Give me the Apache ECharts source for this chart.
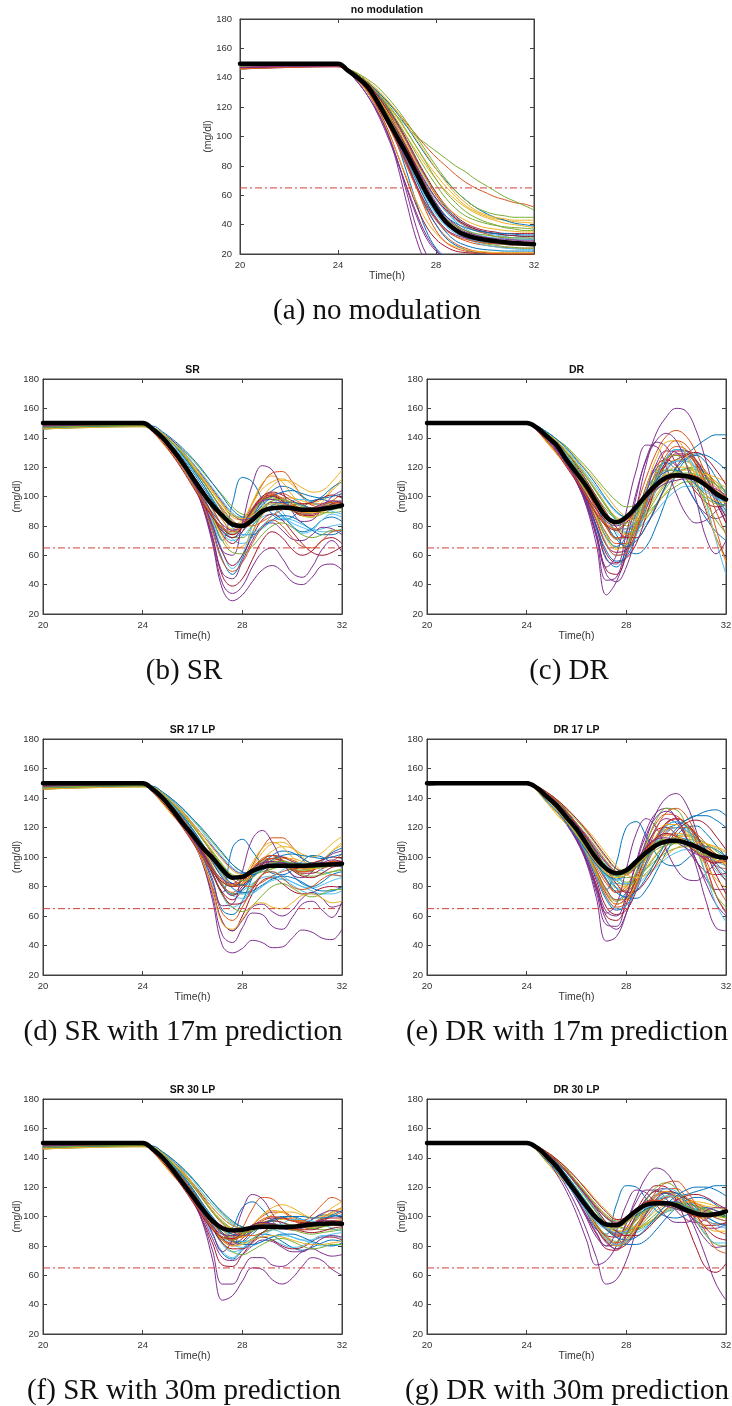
<!DOCTYPE html>
<html>
<head>
<meta charset="utf-8">
<script src="https://cdn.jsdelivr.net/npm/echarts@6/dist/echarts.min.js"></script>
<style>
  html, body { margin: 0; padding: 0; background: #fff; }
  #chart { width: 732px; height: 1406px; }
</style>
</head>
<body>
<div id="chart"></div>
<script>
// Sample times (h) shared by every glucose trace
const hours = [20, 24, 24.4, 24.8, 25.2, 25.6, 26, 26.4, 26.8, 27.2, 27.6, 28, 28.4, 28.8, 29.2, 29.6, 30, 30.4, 30.8, 31.2, 31.6, 32];
const timeTicks = [20, 24, 28, 32];
const glucoseTicks = [20, 40, 60, 80, 100, 120, 140, 160, 180];
const hypoThreshold = 65;

// (a) no modulation
const noModMean = [149.5,149.5,145,140,134,124,112,100,88,75,62,51,42,36.5,33,31,29.7,28.8,28,27.5,27,26.7];
const noModRuns = [
  [146,148,146,142,135,125,112,96,76,55,36,24,18,15,14,13,13,13,13,13,13,13],
  [148,149,146,142,137,131,124,117,109,101,93,86,80,74,69,65,62,59,57,55,54,52],
  [147,148.5,145,140,134,127,119,110,100,90,80,71,63,57,52,48,45,43,41,40,39,38],
  [147,148,145,140,132,120,104,82,55,30,14,8,6,5,5,5,5,5,5,5,5,5],
  [149,149,146,141,135,128,121,114,107,100,95,90,85,80,76,71,67,63,59,56,53,50],
  [148,149,146,141,135,127,117,105,92,79,67,57,49,43,39,36,34,33,32,31,31,30],
  [147,148,145,139,131,120,106,89,71,53,39,30,25,22,21,20.5,20,19.5,19,19,19,19],
  [149,149.5,146,142,136,129,120,109,97,84,72,61,52,45,40,37,35,34,33,32.5,32,32],
  [146,148,144,139,132,123,112,99,85,70,56,45,37,32,29,27,26,25,24.5,24,24,24],
  [148,149,145,141,136,130,122,113,103,93,83,74,66,59,53,49,46,44,43,42,41.5,41],
  [148,149,144,137,128,116,101,84,66,48,33,23,17,14,13,13,13,13,13,13,13,13],
  [149,149,146,142,137,131,123,114,104,93,82,71,62,55,49,45,42,40,38,37,36,36],
  [148,148.5,145,140,133,124,113,100,86,72,59,48,40,35,31,29,28,27,26.5,26,26,26],
  [147,148,146,142,136,128,118,106,93,79,66,55,46,40,36,33,31,30,29,28.5,28,28],
  [148,149,146,142,137,131,124,116,107,97,87,78,70,63,57,52,48,45,43,41,40,39],
  [149,149,145,139,131,121,109,95,80,65,51,40,32,27,24,22,21,20.5,20,20,20,20],
  [148,149,146,143,138,132,125,117,108,98,88,78,69,61,55,50,47,45,44,43,43,43],
  [146,147.5,144,138,130,118,103,85,65,46,31,22,17,15,14,14,14,14,14,14,14,14],
  [147,148,145,141,135,127,117,105,91,77,63,51,42,36,32,29,27,26,25,24.5,24,24],
  [148,148.5,146,141,134,125,114,101,87,73,60,49,41,35,31,28,26,25,24,23.5,23,23],
  [149,149.5,146,142,137,130,121,110,98,85,73,62,53,46,41,38,36,35,34,34,34,34],
  [147,148,145,140,133,124,112,98,83,67,52,40,31,26,23,21,20,19,19,19,19,19],
  [148,149,145,141,135,128,119,108,96,83,71,60,51,44,39,36,34,32,31,30,30,30],
  [146,148,144,138,130,119,105,89,72,56,43,34,28,25,23,22,21.5,21,21,21,21,21],
  [148,148.5,144,137,128,117,103,85,62,38,20,12,9,8,8,8,8,8,8,8,8,8],
  [148,149,146,143,139,134,127,119,110,100,90,80,71,63,57,52,49,47,46,45,45,45],
  [149,149,146,141,135,127,117,106,94,81,69,58,49,42,37,34,32,31,30.5,30,30,30],
  [147,148,145,140,134,126,116,104,90,76,62,50,41,35,31,29,28,27.5,27,27,27,27],
  [148,149,145,140,133,124,113,100,85,70,56,44,35,29,26,24,23,22.5,22,22,22,22],
  [148,149,145,140,134,126,115,101,84,66,49,36,28,24,22,21,20.5,20,20,20,20,20],
  [148,149,145,140,134,125,114,101,88,74,61,50,42,37,33,31,29.5,28.5,28,27.5,27,27],
  [147,148,145,141,135,127,117,105,92,78,65,54,45,39,35,33,31.5,30.5,30,29.5,29,29],
  [149,149.5,146,141,135,126,116,103,90,76,63,52,44,39,36,34,33,32,31.5,31,31,31],
  [148,148.5,145,140,133,124,112,99,85,71,58,47,39,34,31,29,28,27,26.5,26,26,26],
  [147,148,146,142,136,128,118,106,93,80,68,58,50,44,40,37,35,34,33,32.5,32,32],
  [148,149,145,140,134,125,114,102,89,76,64,54,46,41,38,36,35,34,34,33.5,33,33],
  [146,147.5,144,139,132,122,110,96,81,66,53,43,36,32,30,28.5,27.5,27,26.5,26,26,26],
  [148,149,146,141,135,127,117,106,94,82,71,61,53,47,43,40,38,37,36,35.5,35,35],
  [147,148,145,140,133,123,111,97,82,67,54,44,37,33,31,30,29,28.5,28,28,28,28],
  [149,149,146,142,137,130,121,111,100,88,77,67,58,51,46,43,41,39.5,38.5,38,37.5,37]
];

// (b) SR
const srMean = [150,150,146,140,132,123,113,103,94,87,81,80,84,90,92,92.5,92,91,91,91.5,92.5,94];
const srRuns = [
  [148,149,146,140,132,122,110,96,78,57,47,58,75,88,92,87,80,76,78,84,86,83],
  [147,148.5,147,142,136,129,120,111,101,90,80,82,95,108,116,117,110,100,94,93,97,102],
  [149,149,144,136,128,120,112,104,96,88,81,84,95,105,110,112,108,101,96,98,105,112],
  [147,148,146,140,132,122,110,93,68,37,29,33,42,50,53,49,42,40,45,53,54,50],
  [148,149,147,143,137,130,122,113,104,95,87,86,92,98,100,98,94,91,90,92,95,96],
  [147,148,146,141,133,124,112,99,83,63,51,60,80,95,98,90,80,75,77,84,88,86],
  [147,148,146,140,132,122,110,94,72,46,39,44,57,70,76,72,64,60,63,70,72,68],
  [148,149,146,141,133,124,113,100,85,70,95,113,110,98,88,84,86,92,97,98,95,92],
  [147,148,146,141,134,125,115,105,94,84,77,79,87,96,101,102,99,95,92,92,94,95],
  [149,149.5,147,142,136,129,121,112,103,94,86,84,87,93,97,99,99,97,95,94,95,97],
  [148,149,146,140,132,122,110,94,70,41,34,39,52,62,65,58,48,45,52,64,70,62],
  [148,149,147,143,138,132,125,117,109,101,93,88,87,89,92,94,94,92,90,89,89,90],
  [146,148,145,139,131,122,111,99,86,75,70,73,80,86,88,86,82,79,77,78,80,81],
  [149,149.5,146,140,132,122,111,97,80,62,53,60,73,84,88,84,76,68,62,60,62,66],
  [147,148,146,141,133,124,113,101,88,77,72,76,86,97,104,107,105,100,97,100,106,110],
  [147,148,147,142,136,129,120,111,101,92,84,80,80,83,87,91,94,95,95,95,96,97],
  [148,149,145,138,130,122,113,104,94,84,78,83,96,109,114,110,101,94,92,96,104,110],
  [146,148,145,139,131,121,109,94,73,48,44,56,70,80,82,77,71,70,74,79,78,74],
  [146,147.5,145,140,133,124,114,103,91,80,72,72,80,88,93,93,90,87,86,88,91,92],
  [147,148,146,141,134,125,115,104,92,80,71,68,72,78,83,85,84,81,78,76,76,78],
  [148,148.5,146,140,132,123,112,100,87,74,68,76,88,97,100,97,91,87,87,91,95,96],
  [147,148.5,146,141,134,126,117,107,97,87,79,74,74,79,84,87,86,82,77,74,74,77],
  [148,149,146,141,134,125,115,104,92,80,74,80,92,100,102,98,92,89,90,94,97,97],
  [149,149,147,142,136,128,119,109,98,88,80,79,88,99,107,111,110,106,103,104,110,118],
  [148,149,146,141,133,123,112,98,81,63,60,82,108,121,118,104,90,83,84,92,100,104],
  [148,149,146,141,133,124,113,100,85,70,62,61,66,74,80,82,79,74,72,74,77,77],
  [147,148,146,141,135,127,118,109,99,88,79,74,75,80,87,93,97,98,96,93,90,88],
  [148,149,146,140,132,123,112,100,87,76,72,79,91,100,103,101,97,95,96,99,101,99],
  [148,149,147,142,136,128,119,109,98,88,80,79,86,94,100,103,104,102,100,99,100,102],
  [148,148.5,146,140,132,122,111,96,76,56,49,55,68,79,84,80,72,66,65,70,76,77],
  [149,149.5,146,141,133,124,113,100,86,73,65,66,76,87,94,95,91,87,86,89,93,94],
  [148,149,147,143,138,131,123,114,105,96,88,84,86,92,96,95,92,90,91,93,94,93],
  [147,148,145,138,130,120,109,97,86,78,75,79,89,97,99,96,91,88,89,92,94,94],
  [148,149,147,143,137,131,123,115,106,97,89,85,87,92,95,94,92,91,92,94,96,97],
  [149,149.5,144,137,128,118,107,96,86,78,74,79,90,99,101,97,91,88,88,91,93,93],
  [147,148,148,144,139,133,126,118,109,100,91,86,85,89,94,96,96,94,92,91,92,93],
  [148,148.5,145,138,129,119,108,97,87,79,76,80,90,98,101,99,95,92,92,94,96,95],
  [146,147.5,147,143,137,130,122,113,104,95,88,85,87,92,95,95,93,90,89,90,92,93],
  [148,149,145,139,131,121,110,99,89,81,77,81,91,97,98,96,93,91,92,95,97,96],
  [147,148.5,147,142,136,129,120,111,101,91,83,80,83,92,97,98,96,93,91,91,93,94]
];

// (c) DR
const drMean = [150,150,147,141,135,125,116,107,96,86,82.5,86,93,101,108,113,114.5,114,112,107.5,102,98];
const drRuns = [
  [149,150,147,141,134,125,114,101,87,72,66,73,88,104,115,121,125,129,134,139,142,142],
  [150,150,147,142,135,126,116,105,92,79,71,76,93,113,130,141,145,141,130,115,102,95],
  [150,150,145,137,129,121,113,104,94,82,71,72,84,99,112,121,125,124,119,112,104,97],
  [149,150,146,140,132,122,110,93,67,33,42,62,92,122,143,154,160,158,145,124,100,82],
  [149,150,147,143,137,130,122,113,104,94,84,78,78,85,95,106,114,119,120,116,110,103],
  [150,150,147,142,136,128,119,109,98,86,76,71,76,89,104,117,124,125,120,110,98,86],
  [149,150,146,140,132,122,110,95,74,50,47,60,84,107,121,125,121,112,103,96,93,94],
  [150,150.5,147,142,136,128,119,109,98,86,74,64,61,66,80,98,115,125,128,123,113,102],
  [149,150,147,141,134,125,115,104,92,80,72,72,82,97,112,123,128,128,122,114,106,100],
  [150,150.5,145,137,129,121,113,105,96,86,77,74,80,90,101,110,116,118,117,114,110,106],
  [150,150.5,146,140,132,122,110,94,72,43,45,68,100,126,137,134,122,108,96,88,85,88],
  [149,150,147,142,136,128,119,110,100,91,84,80,82,88,95,102,107,110,110,108,104,100],
  [150,150,147,143,137,130,122,113,103,93,83,76,76,82,90,98,104,107,107,104,100,96],
  [150,150,146,141,133,123,112,98,80,61,55,58,68,87,107,122,129,129,122,110,96,82],
  [150,151,146,140,132,122,111,97,78,58,52,64,85,106,119,123,118,108,96,85,76,70],
  [150,150,147,141,134,125,115,104,91,79,72,73,80,92,106,118,125,127,124,117,108,99],
  [150,150,147,142,135,126,116,106,94,83,77,78,86,97,108,116,120,120,116,110,103,96],
  [150,150,146,140,132,122,110,95,73,47,42,52,75,102,122,131,130,122,108,90,72,58],
  [150,150.5,147,143,137,129,120,110,99,88,79,75,79,88,99,109,116,119,118,114,108,102],
  [149,150,147,142,136,128,118,108,96,85,78,78,86,98,110,119,124,124,119,110,99,88],
  [150,150.5,146,141,133,123,112,99,83,67,62,64,75,92,110,124,131,131,125,113,99,86],
  [150,150,146,141,133,123,111,97,80,63,56,59,74,94,113,126,132,131,124,113,101,90],
  [150,150,147,141,134,125,114,102,88,75,68,68,78,95,114,128,134,132,121,102,78,55],
  [150,150,148,144,139,133,126,118,110,101,92,86,84,86,94,103,110,114,116,115,113,110],
  [150,150,146,140,132,122,111,96,75,52,60,90,118,135,134,120,102,88,82,84,90,96],
  [150,150,148,144,139,134,127,120,112,104,97,93,94,98,104,110,114,116,115,112,108,104],
  [149,150,146,141,133,124,113,100,84,68,60,62,74,93,112,126,132,129,117,96,70,47],
  [150,150,147,143,137,130,121,111,100,89,79,72,72,80,93,108,120,128,130,126,118,108],
  [149,150,147,142,135,127,117,106,94,81,71,66,70,80,94,108,119,126,129,128,124,118],
  [150,150,146,141,133,124,113,100,84,67,60,62,76,97,118,132,138,135,124,108,90,74],
  [150,151,147,141,134,125,114,101,86,71,64,68,84,106,126,137,138,129,112,92,72,56],
  [150,151,146,141,133,123,112,98,79,57,54,75,103,125,138,143,138,122,98,72,61,70],
  [150,150,147,141,134,125,115,102,88,74,65,67,80,99,116,126,128,122,110,96,84,75],
  [150,150,148,144,139,132,124,115,106,97,89,86,90,100,110,115,116,113,108,103,99,96],
  [150,150.5,145,138,130,120,110,99,88,80,77,82,92,101,107,111,113,113,111,107,102,98],
  [149,150,148,144,139,133,125,117,108,98,90,86,90,101,111,117,118,114,108,101,96,94],
  [150,150,145,138,130,121,111,100,89,81,78,83,91,99,106,111,114,115,114,110,104,99],
  [150,150,147,143,138,131,123,114,104,94,86,84,89,100,109,115,116,113,107,101,97,96],
  [149,150,145,139,131,122,112,101,91,83,80,84,92,99,105,109,111,112,111,108,105,101],
  [150,150.5,148,143,137,130,122,113,103,93,85,82,88,101,112,118,117,112,105,99,95,94]
];

// (d) SR 17 LP
const sr17Mean = [150,150,146,140,132,123,115,106.5,99.5,91.5,86,86.5,90.5,93,94,94,94,94,94.3,94.7,95,95.5];
const sr17Runs = [
  [148,148.5,146,141,133,124,113,100,83,64,61,70,86,98,101,96,88,82,80,83,88,90],
  [147,148.5,147,142,136,128,119,109,99,89,80,82,94,106,113,113,107,99,93,93,97,102],
  [149,149,144,136,128,121,114,106,98,89,82,84,93,103,109,110,106,100,96,98,104,110],
  [147,148,146,140,132,122,111,96,71,40,35,38,43.5,42,38.5,39,45,50.5,49,45,44,51],
  [148,149,147,143,137,130,122,113,104,95,88,87,92,97,99,98,95,93,92,93,95,96],
  [148,149,146,141,134,125,115,103,89,74,66,70,80,88,90,87,83,80,79,81,84,86],
  [149,149.5,146,140,132,122,111,97,78,56,50,60,75,84,86,82,77,75,76,79,80,79],
  [147,148,146,141,134,125,115,103,88,76,106,112,104,95,89,88,91,97,101,100,96,93],
  [147,148,146,141,134,126,117,107,96,86,80,81,88,95,99,100,98,95,93,93,94,95],
  [149,149.5,147,143,137,130,122,113,103,94,87,86,88,93,97,99,99,97,95,94,95,97],
  [148,149,146,140,132,122,111,96,74,47,42,52,62,61,53,51,59,68,70,64,59,70],
  [148,149,148,144,139,133,126,118,110,102,95,90,88,90,92,94,94,92,90,89,90,91],
  [146,148,145,140,133,124,114,104,92,80,74,77,82,86,87,85,81,77,75,75,77,79],
  [148,148.5,146,141,133,124,114,102,89,76,71,78,88,96,99,97,92,89,89,92,95,96],
  [147,148,146,141,134,125,115,104,92,81,75,78,86,95,101,104,103,99,96,98,103,106],
  [147,148,147,142,136,129,121,112,102,92,85,81,80,83,87,90,92,93,94,94,95,96],
  [148,149,145,137,129,122,115,107,98,88,81,85,96,106,110,107,100,95,94,98,104,108],
  [148,148.5,146,140,132,122,111,97,77,56,50,57,66,68,63,60,64,72,76,72,66,68],
  [146,147.5,146,141,134,126,116,106,94,82,75,75,81,88,92,93,91,88,87,88,90,92],
  [147,148,146,141,134,126,116,105,93,81,74,72,75,80,84,85,83,80,77,75,75,77],
  [148,149,146,141,134,125,115,104,91,80,74,80,90,98,101,100,97,95,96,98,100,99],
  [147,148.5,147,142,135,127,118,108,97,86,79,76,77,81,85,87,86,83,79,77,77,80],
  [148,149,146,141,134,126,116,105,93,81,76,82,92,99,101,98,93,90,91,94,97,97],
  [149,149,147,142,136,128,119,109,99,88,81,82,89,98,104,107,106,102,100,103,109,114],
  [148,149,146,141,134,124,114,101,85,67,68,90,112,118,110,97,88,86,90,97,102,104],
  [148,149,146,141,134,125,115,103,89,74,66,63,67,74,80,82,79,75,73,75,78,78],
  [147,148,147,142,135,128,119,109,98,87,79,75,76,80,86,91,95,96,94,91,88,87],
  [149,149.5,146,141,134,125,115,103,89,75,68,69,78,88,94,95,91,87,86,89,93,94],
  [148,149,147,142,136,128,119,109,99,89,82,81,86,93,98,101,102,101,100,99,100,102],
  [146,148,146,140,132,123,112,98,80,62,57,66,79,88,90,86,80,78,80,85,88,87],
  [147,148,146,140,132,122,111,97,77,55,51,58,67,69,66,65,69,74,75,72,69,70],
  [148,149,147,143,138,131,123,115,107,99,92,89,90,94,96,95,94,94,95,96,96,95],
  [147,148,145,138,130,121,111,100,90,83,80,84,91,96,97,95,92,91,92,94,96,96],
  [148,149,147,143,138,132,125,117,108,100,93,89,89,92,95,95,94,93,93,94,95,96],
  [149,149.5,144,137,129,120,110,100,90,83,80,84,90,95,97,96,93,92,93,95,96,95],
  [147,148,148,144,139,133,126,119,111,103,95,90,88,91,95,96,96,95,94,94,94,95],
  [148,148.5,145,138,130,121,111,100,91,84,81,85,92,98,99,96,92,90,91,94,97,97],
  [146,147.5,147,143,137,131,123,115,106,98,91,88,89,93,95,95,94,92,92,93,95,96],
  [148,149,145,139,131,122,112,102,92,85,82,87,92,96,97,96,95,94,94,96,98,97],
  [147,148.5,147,142,136,129,121,112,103,94,87,84,86,92,96,97,96,94,93,93,94,95]
];

// (e) DR 17 LP
const dr17Mean = [150,150,147,141,135,127,119,109,99,92,89,91,97,103,108,110.5,111,109.5,107,103.5,100.5,99.5];
const dr17Runs = [
  [149,150,147,142,135,126,116,104,91,78,71,76,89,103,113,119,122,125,128,131,132,128],
  [150,150,147,142,136,128,119,108,96,84,76,80,94,110,123,129,128,121,110,100,94,92],
  [150,150,145,137,129,122,115,107,98,88,79,79,90,103,113,119,120,117,111,104,98,94],
  [150,150,146,140,132,122,111,96,72,43,46,62,88,112,130,140,143,136,118,95,74,62],
  [149,150,148,143,138,131,123,114,105,96,88,83,84,89,97,105,110,112,111,107,102,97],
  [150,150,147,142,136,128,119,109,98,87,79,77,84,96,108,117,120,118,111,101,91,84],
  [149,150,146,141,133,123,112,98,79,60,57,68,88,107,118,120,115,106,97,90,88,89],
  [150,150.5,147,143,137,130,122,113,102,90,79,72,72,78,90,103,114,120,121,116,108,100],
  [149,150,147,142,135,126,116,105,93,82,76,78,87,100,111,118,120,118,113,107,102,98],
  [150,150.5,145,137,130,122,115,107,99,90,82,80,84,93,102,109,113,114,112,109,106,103],
  [150,150.5,146,141,133,123,112,97,76,54,53,72,97,118,130,133,126,113,98,85,78,78],
  [149,150,147,142,136,129,121,112,103,94,88,86,87,92,98,103,106,107,106,104,101,98],
  [150,150,148,143,138,131,123,114,105,95,87,82,82,87,93,99,103,105,104,101,97,94],
  [150,150,146,141,134,125,114,101,84,66,61,64,77,95,112,123,126,123,114,102,88,75],
  [150,151,147,142,135,126,116,104,90,78,96,120,124,114,102,95,94,98,104,107,105,100],
  [150,150,147,142,135,127,117,106,95,84,77,77,84,95,107,116,120,120,116,109,101,94],
  [150,150,147,142,136,128,119,109,99,89,82,82,89,99,108,114,116,115,111,106,100,95],
  [150,150,146,141,133,123,112,98,78,57,51,62,82,104,120,126,123,113,98,82,68,60],
  [150,150.5,148,143,137,130,121,112,102,92,84,81,84,92,101,109,114,115,113,109,104,99],
  [149,150,147,142,136,128,119,109,98,88,82,82,89,100,110,117,120,118,112,103,94,86],
  [150,150.5,147,141,134,125,115,103,89,75,68,72,84,100,114,123,126,123,115,104,93,84],
  [150,150,146,141,134,125,114,101,86,71,64,67,80,97,112,121,124,121,114,105,96,89],
  [150,150,147,142,135,126,116,104,91,78,71,71,80,96,112,122,126,123,111,93,74,63],
  [150,150,148,144,139,133,126,119,111,102,94,88,86,88,94,101,106,109,110,109,107,104],
  [150,150,146,141,133,123,112,99,81,62,68,92,116,126,120,105,92,85,84,89,96,101],
  [150,151,147,142,135,126,116,104,90,76,70,75,90,109,125,133,132,122,106,88,74,66],
  [149,150,146,141,134,125,114,102,87,72,65,67,78,95,111,121,124,120,107,88,68,56],
  [150,150,148,143,138,131,122,113,103,92,82,76,77,84,95,107,117,123,125,122,114,105],
  [149,150,147,142,136,128,119,109,97,85,76,73,77,86,98,110,119,125,128,128,125,120],
  [150,150,147,141,134,125,115,103,88,73,66,69,82,101,119,130,133,128,115,98,82,70],
  [150,150,147,141,134,125,115,103,89,76,68,71,83,100,114,122,122,116,105,94,85,79],
  [150,151,146,141,133,124,113,99,81,63,60,74,96,115,127,131,127,114,94,70,52,50],
  [150,150,148,144,139,132,125,117,108,99,92,91,96,104,110,112,111,108,104,101,99,99],
  [150,150.5,145,138,131,123,114,104,94,87,84,88,95,102,107,110,110,108,106,103,101,100],
  [149,150,148,144,139,133,126,118,109,100,92,89,95,106,113,116,114,109,103,98,96,97],
  [150,150,145,138,131,123,114,104,95,88,85,88,93,100,107,111,113,112,108,104,100,98],
  [150,150,147,143,138,131,123,115,106,97,90,88,94,105,112,115,114,110,104,99,97,98],
  [149,150,145,139,132,124,115,106,96,89,86,88,94,101,108,112,113,111,107,102,98,96],
  [150,150.5,148,143,137,130,122,114,104,96,90,90,98,107,112,113,110,106,102,100,100,101],
  [150,150,146,140,133,125,116,107,98,91,87,89,94,100,105,108,109,109,107,104,101,100]
];

// (f) SR 30 LP
const sr30Mean = [150,150,146,140,132,123,114,105,97,92,90.5,91,92.3,93,93,92.7,93,93.8,94.5,95,95.2,95];
const sr30Runs = [
  [148,148.5,146,141,133,124,114,102,88,75,71,77,84,88,87,83,79,77,79,82,84,83],
  [147,148.5,147,142,136,128,119,109,99,91,87,88,94,100,103,103,100,97,96,97,100,103],
  [149,149,144,136,128,121,114,106,98,91,88,88,94,101,106,108,106,102,99,101,106,110],
  [147,148,146,140,132,122,111,96,71,43,46,56,65,64,57,54,58,66,72,70,64,60],
  [148,149,147,143,137,130,122,113,104,97,92,91,93,96,97,96,94,93,92,93,95,96],
  [149,149.5,146,141,133,124,114,102,88,76,72,78,84,86,84,81,79,80,84,87,87,85],
  [147,148,146,140,132,123,112,98,82,67,66,74,82,86,84,80,78,79,83,86,86,84],
  [147,148,146,141,134,126,116,106,94,84,92,106,110,105,97,92,91,94,98,101,101,99],
  [147,148,146,141,134,126,117,107,97,89,86,86,90,95,98,99,98,96,95,95,96,97],
  [149,149.5,147,143,137,130,122,113,104,96,92,91,92,95,97,98,98,97,96,96,97,98],
  [148,149,146,140,132,122,111,97,77,54,54,64,72,72,67,66,70,76,78,75,73,74],
  [148,149,148,144,139,133,126,118,110,102,96,93,92,92,93,94,94,93,92,91,91,92],
  [148,149,146,141,134,125,115,104,92,81,76,78,84,89,91,89,86,84,84,86,88,89],
  [148,148.5,146,141,134,125,115,105,94,84,80,83,90,95,97,96,93,91,91,93,95,96],
  [147,148,146,141,135,126,117,107,97,88,83,83,88,94,98,100,100,98,96,98,101,104],
  [147,148,147,142,136,129,121,112,103,95,90,87,87,89,91,93,94,95,95,95,96,97],
  [148,149,145,137,129,122,115,107,99,91,86,87,94,101,104,103,99,96,95,98,102,105],
  [148,148.5,146,141,133,124,113,100,85,72,70,74,80,84,83,79,76,76,80,85,87,86],
  [146,147.5,146,141,134,126,116,106,96,88,83,82,85,89,91,92,91,89,88,89,90,91],
  [147,148,146,141,134,126,116,106,95,86,81,79,80,83,86,87,86,84,82,80,80,81],
  [148,149,146,141,134,125,115,105,94,85,81,85,92,97,99,99,97,96,96,98,99,99],
  [147,148.5,147,142,135,127,118,108,98,89,84,81,81,83,86,88,88,86,83,81,80,82],
  [148,149,146,141,134,125,115,104,93,84,82,92,105,113,112,105,98,95,96,99,103,106],
  [149,149,147,142,136,128,119,109,99,91,86,86,91,97,101,103,103,101,99,100,103,106],
  [146,148,146,141,134,125,115,103,89,76,84,104,115,112,102,94,91,93,98,102,104,103],
  [148,149,146,141,134,125,116,105,93,82,76,74,77,81,84,85,83,80,78,79,81,81],
  [147,148,147,142,135,128,119,109,99,91,86,83,84,87,91,95,98,98,97,95,92,90],
  [149,149.5,146,141,134,125,115,104,92,82,78,78,83,89,93,94,92,90,89,90,92,93],
  [148,149,147,142,136,128,119,109,100,92,88,87,90,94,97,99,100,100,99,99,100,101],
  [148,149,146,141,134,126,117,107,96,88,85,87,93,98,100,99,97,97,101,108,113,110],
  [146,148,146,141,134,125,115,104,93,84,80,81,84,86,87,86,84,82,81,81,82,83],
  [148,149,147,143,138,131,123,114,106,99,94,92,93,95,94,92,91,92,94,95,95,94],
  [147,148,145,138,130,121,111,101,92,86,84,88,93,95,95,93,91,91,93,95,96,96],
  [148,149,147,143,138,132,125,116,108,101,95,92,92,94,95,94,93,93,94,95,96,97],
  [149,149.5,144,137,129,120,110,100,91,86,85,89,94,96,95,93,92,93,95,97,97,96],
  [147,148,148,144,139,133,126,118,110,103,97,93,92,93,94,94,94,94,94,95,95,96],
  [148,148.5,145,138,130,121,111,101,92,86,84,87,92,95,95,93,91,91,93,95,97,97],
  [146,147.5,147,143,137,131,123,115,106,99,94,92,92,93,93,93,93,93,93,94,94,95],
  [148,149,145,139,131,122,112,102,93,88,87,90,94,96,95,93,92,93,95,97,97,96],
  [147,148.5,147,142,136,129,121,112,103,96,91,89,90,93,94,94,94,94,93,93,94,95]
];

// (g) DR 30 LP
const dr30Mean = [150,150,147,141,134,125,116,107,99,94.5,94,98.5,104,108,109,109,107.5,104.5,102,101,101.5,103.5];
const dr30Runs = [
  [149,150,147,142,135,127,118,108,99,91,88,90,98,106,111,113,114,115,117,119,121,121],
  [150,150,147,142,135,127,118,108,99,92,89,91,100,109,115,116,113,107,101,97,95,95],
  [150,150,145,137,129,122,115,107,100,94,90,91,99,108,114,117,116,113,109,105,102,101],
  [150,150,146,140,131,120,107,91,72,54,57,70,90,106,114,116,112,104,96,92,92,95],
  [149,150,148,143,138,131,123,114,106,99,94,91,91,94,99,104,107,108,107,105,102,100],
  [150,150,147,142,136,128,119,110,101,93,88,87,90,98,106,112,114,112,107,101,96,93],
  [150,150.5,146,141,134,125,115,104,94,87,86,92,104,115,121,120,111,96,79,65,62,68],
  [150,150.5,147,143,137,130,122,113,103,94,86,81,81,84,91,99,106,111,113,112,108,103],
  [149,150,147,142,135,127,118,108,99,92,88,89,94,102,109,113,114,112,109,106,104,102],
  [150,150.5,145,137,130,122,115,107,100,94,90,89,92,98,104,108,110,110,109,107,106,105],
  [150,150.5,146,139,129,117,102,84,67,70,80,95,110,118,118,112,104,98,96,98,102,104],
  [149,150,148,143,138,131,123,115,106,99,94,92,92,95,99,103,105,106,105,104,102,100],
  [150,150,147,143,137,130,122,113,104,96,91,88,89,93,98,103,106,107,105,102,99,97],
  [149,150,146,141,133,123,112,100,88,78,77,87,101,112,117,116,110,103,97,94,94,96],
  [150,151,147,141,134,125,115,103,91,88,108,121,120,112,104,100,99,101,104,106,104,100],
  [150,150,147,142,135,127,118,108,98,91,87,87,92,100,108,113,114,112,108,103,99,97],
  [150,150,147,142,136,128,119,110,101,94,90,91,97,105,111,114,113,110,106,102,100,99],
  [150,150,146,141,133,124,113,101,89,80,82,96,113,127,133,130,120,107,94,84,79,80],
  [150,150.5,148,143,137,130,121,112,103,95,90,89,91,96,102,107,109,109,107,104,101,99],
  [149,150,147,142,136,128,119,110,100,93,89,90,95,103,110,114,114,110,104,98,94,92],
  [150,150,146,141,134,125,115,104,92,83,78,81,90,102,112,117,116,110,101,92,86,84],
  [150,150,146,141,134,125,115,104,93,84,80,82,91,102,111,116,116,112,106,100,96,94],
  [150,150,147,141,134,126,116,105,94,86,81,83,91,103,114,119,119,113,102,89,78,75],
  [150,150,148,144,139,133,126,119,111,104,98,94,93,95,100,105,108,110,110,109,107,105],
  [150,151,147,141,134,125,115,104,92,82,78,88,101,112,118,119,114,104,90,72,54,43],
  [150,151,147,142,135,126,117,106,95,87,83,88,99,111,120,123,119,109,97,87,81,80],
  [149,150,146,141,134,125,115,104,93,85,81,84,93,105,115,119,117,109,98,88,82,82],
  [150,150,148,143,138,131,123,114,105,96,90,87,87,91,98,105,111,114,115,113,109,105],
  [149,150,147,142,136,128,119,109,99,91,86,84,86,92,100,108,114,118,120,120,118,114],
  [150,150,147,142,135,126,116,105,94,86,82,85,94,106,117,123,124,118,108,98,91,88],
  [150,150,146,141,134,125,115,104,93,84,80,83,93,105,114,117,114,107,99,93,90,90],
  [150,150,146,141,133,123,112,99,86,80,90,108,118,116,108,100,96,96,100,104,106,106],
  [150,150,148,144,139,132,124,116,108,101,97,98,103,107,109,109,108,105,102,101,102,103],
  [150,150.5,145,138,131,122,113,104,96,92,92,96,102,106,108,109,108,106,103,101,101,102],
  [149,150,148,144,139,133,126,118,110,103,98,99,105,110,111,109,106,103,100,100,102,104],
  [150,150,145,138,131,123,114,105,97,93,93,97,101,105,108,110,110,107,104,101,101,103],
  [150,150,147,143,138,131,123,115,107,100,96,97,103,109,111,110,107,103,100,99,101,104],
  [149,150,145,139,132,124,115,106,98,93,92,96,102,107,109,109,107,104,102,101,102,103],
  [150,150.5,148,143,137,130,122,114,106,99,96,99,104,107,108,107,105,103,102,102,103,104],
  [150,150,146,140,133,125,116,107,99,94,93,96,100,104,107,109,109,107,104,102,102,102]
];

// Default MATLAB line colour order
const lineColors = ['#0072BD', '#D95319', '#EDB120', '#7E2F8E', '#77AC30', '#4DBEEE', '#A2142F'];

const panels = [
  { title: 'no modulation', caption: '(a) no modulation', runs: noModRuns, mean: noModMean,
    left: 240, top: 19, width: 294, height: 235, capX: 377, nameGap: 26, labelMargin: 8 },
  { title: 'SR', caption: '(b) SR', runs: srRuns, mean: srMean,
    left: 43, top: 379, width: 299, height: 235, capX: 184, nameGap: 20, labelMargin: 4 },
  { title: 'DR', caption: '(c) DR', runs: drRuns, mean: drMean,
    left: 427, top: 379, width: 299, height: 235, capX: 569, nameGap: 19, labelMargin: 4 },
  { title: 'SR 17 LP', caption: '(d) SR with 17m prediction', runs: sr17Runs, mean: sr17Mean,
    left: 43, top: 739, width: 299, height: 236, capX: 183, nameGap: 20, labelMargin: 4 },
  { title: 'DR 17 LP', caption: '(e) DR with 17m prediction', runs: dr17Runs, mean: dr17Mean,
    left: 427, top: 739, width: 299, height: 236, capX: 567, nameGap: 19, labelMargin: 4 },
  { title: 'SR 30 LP', caption: '(f) SR with 30m prediction', runs: sr30Runs, mean: sr30Mean,
    left: 43, top: 1099, width: 299, height: 235, capX: 184, nameGap: 20, labelMargin: 4 },
  { title: 'DR 30 LP', caption: '(g) DR with 30m prediction', runs: dr30Runs, mean: dr30Mean,
    left: 427, top: 1099, width: 299, height: 235, capX: 567, nameGap: 19, labelMargin: 4 }
];

const AXIS_COLOR = '#404040';
const SANS = '"Liberation Sans", Arial, sans-serif';

const grids = [], xAxes = [], yAxes = [], series = [], graphics = [];

panels.forEach((p, i) => {
  grids.push({
    left: p.left, top: p.top, width: p.width, height: p.height,
    show: true, backgroundColor: '#fff', borderColor: AXIS_COLOR, borderWidth: 1,
    containLabel: false, outerBoundsMode: 'none'
  });

  const tickStyle = { show: true, inside: true, length: 4, lineStyle: { color: AXIS_COLOR, width: 1 } };
  const axisLineStyle = { show: true, onZero: false, lineStyle: { color: AXIS_COLOR, width: 1 } };
  const tMin = timeTicks[0], tMax = timeTicks[timeTicks.length - 1], tStep = timeTicks[1] - timeTicks[0];
  const gMin = glucoseTicks[0], gMax = glucoseTicks[glucoseTicks.length - 1], gStep = glucoseTicks[1] - glucoseTicks[0];

  // bottom x axis with labels, top x axis carrying mirrored ticks only
  xAxes.push({
    type: 'value', gridIndex: i, position: 'bottom', min: tMin, max: tMax, interval: tStep,
    axisLine: axisLineStyle, axisTick: tickStyle, splitLine: { show: false },
    axisLabel: { color: '#333', fontSize: 9.5, fontFamily: SANS, margin: 6, showMinLabel: true, showMaxLabel: true },
    name: 'Time(h)', nameLocation: 'middle', nameGap: 17, nameMoveOverlap: false,
    nameTextStyle: { color: '#333', fontSize: 10.5, fontFamily: SANS }
  });
  xAxes.push({
    type: 'value', gridIndex: i, position: 'top', min: tMin, max: tMax, interval: tStep,
    axisLine: axisLineStyle, axisTick: tickStyle, splitLine: { show: false }, axisLabel: { show: false }
  });

  yAxes.push({
    type: 'value', gridIndex: i, position: 'left', min: gMin, max: gMax, interval: gStep,
    axisLine: axisLineStyle, axisTick: tickStyle, splitLine: { show: false },
    axisLabel: { color: '#333', fontSize: 9.5, fontFamily: SANS, margin: p.labelMargin, showMinLabel: true, showMaxLabel: true },
    name: '(mg/dl)', nameLocation: 'middle', nameGap: p.nameGap, nameRotate: 90, nameMoveOverlap: false,
    nameTextStyle: { color: '#333', fontSize: 10.5, fontFamily: SANS }
  });
  yAxes.push({
    type: 'value', gridIndex: i, position: 'right', min: gMin, max: gMax, interval: gStep,
    axisLine: axisLineStyle, axisTick: tickStyle, splitLine: { show: false }, axisLabel: { show: false }
  });

  const xi = 2 * i, yi = 2 * i;

  // individual simulated runs
  p.runs.forEach((run, k) => {
    series.push({
      type: 'line', xAxisIndex: xi, yAxisIndex: yi,
      data: hours.map((t, j) => [t, run[j]]),
      smooth: 0.4, showSymbol: false, symbol: 'none', silent: true, clip: true,
      lineStyle: { width: 1, color: lineColors[k % lineColors.length] },
      z: 2
    });
  });

  // hypoglycaemia threshold
  series.push({
    type: 'line', xAxisIndex: xi, yAxisIndex: yi,
    data: [[tMin, hypoThreshold], [tMax, hypoThreshold]],
    showSymbol: false, symbol: 'none', silent: true,
    lineStyle: { width: 1, color: '#d0403c', type: [7, 3, 2, 3] },
    z: 3
  });

  // mean trajectory
  series.push({
    type: 'line', xAxisIndex: xi, yAxisIndex: yi,
    data: hours.map((t, j) => [t, p.mean[j]]),
    smooth: 0.4, showSymbol: false, symbol: 'none', silent: true, clip: true,
    lineStyle: { width: 4.5, color: '#000', cap: 'round', join: 'round' },
    z: 4
  });

  graphics.push({
    type: 'text', x: p.left + p.width / 2, y: p.top - 9, z: 10,
    style: { text: p.title, fill: '#111', font: 'bold 10.5px ' + SANS, align: 'center', verticalAlign: 'middle' }
  });
  graphics.push({
    type: 'text', x: p.capX, y: p.top + p.height + 57, z: 10,
    style: { text: p.caption, fill: '#111', font: '29px "Liberation Serif", "Times New Roman", serif', align: 'center', verticalAlign: 'middle' }
  });
});

const chart = echarts.init(document.getElementById('chart'), null, { renderer: 'canvas' });
chart.setOption({
  animation: false,
  backgroundColor: '#fff',
  grid: grids,
  xAxis: xAxes,
  yAxis: yAxes,
  series: series,
  graphic: graphics
});
</script>
</body>
</html>
